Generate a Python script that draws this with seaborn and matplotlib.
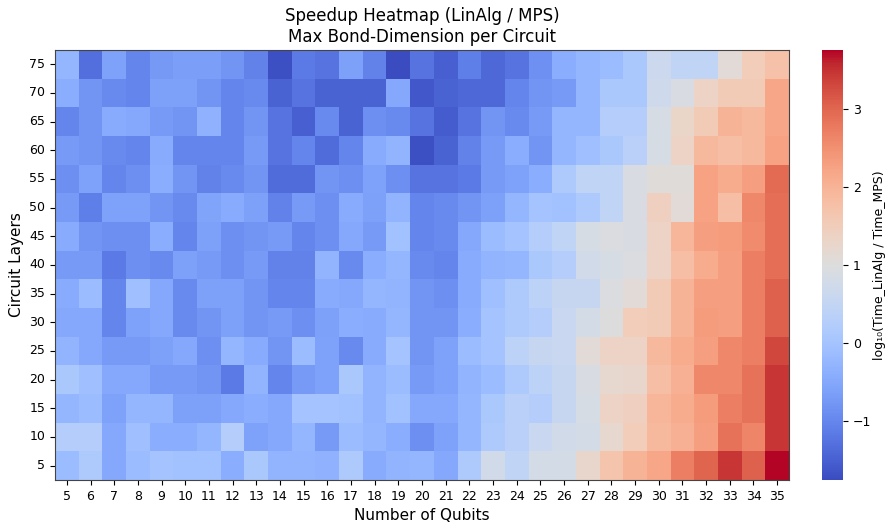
import numpy as np
import pandas as pd
import matplotlib
matplotlib.use("Agg")
import matplotlib.pyplot as plt
import seaborn as sns

# Circuit sizes
qubits = list(range(5, 36))
layers = list(range(75, 0, -5))

# log10(Time LinAlg / Time MPS), one list per circuit depth, qubits 5..35
speedup_L75 = [-0.25, -1.30, -0.60, -1.00, -0.72, -0.65, -0.65, -0.80,
               -1.05, -1.70, -1.15, -1.25, -0.62, -1.05, -1.75, -1.25,
               -1.50, -1.10, -1.40, -1.25, -0.85, -0.40, -0.25, -0.15,
               0.10, 0.65, 0.45, 0.45, 1.10, 1.50, 1.75]
speedup_L70 = [-0.40, -0.80, -0.95, -1.00, -0.62, -0.62, -0.80, -1.00,
               -0.95, -1.45, -1.25, -1.45, -1.45, -1.45, -0.50, -1.60,
               -1.45, -1.40, -1.40, -1.00, -0.80, -0.70, -0.25, 0.10,
               0.10, 0.70, 0.90, 1.35, 1.55, 1.55, 2.20]
speedup_L65 = [-1.00, -0.80, -0.45, -0.50, -0.70, -0.80, -0.35, -1.00,
               -0.80, -1.25, -1.50, -0.95, -1.45, -0.88, -0.95, -1.25,
               -1.55, -1.25, -0.80, -0.95, -0.70, -0.25, -0.25, 0.25,
               0.25, 0.85, 1.30, 1.55, 2.00, 1.90, 2.20]
speedup_L60 = [-0.70, -0.80, -0.95, -1.00, -0.45, -1.00, -1.00, -1.00,
               -0.70, -1.25, -1.00, -1.35, -1.00, -0.45, -0.30, -1.70,
               -1.45, -1.05, -0.70, -0.40, -0.80, -0.25, -0.08, 0.10,
               0.35, 0.85, 1.35, 1.90, 1.80, 1.90, 2.25]
speedup_L55 = [-0.88, -0.60, -1.00, -0.88, -0.40, -0.80, -1.05, -0.95,
               -0.80, -1.35, -1.35, -0.80, -0.88, -0.60, -0.88, -1.25,
               -1.25, -1.15, -0.70, -0.60, -0.40, 0.15, 0.45, 0.45,
               0.90, 1.05, 1.05, 2.25, 2.10, 2.30, 2.95]
speedup_L50 = [-0.70, -1.10, -0.60, -0.60, -0.80, -0.95, -0.55, -0.45,
               -0.62, -1.05, -0.70, -0.88, -0.45, -0.62, -0.30, -1.00,
               -0.95, -0.80, -0.62, -0.25, 0.00, -0.05, 0.15, 0.45,
               0.90, 1.45, 1.10, 2.25, 1.80, 2.60, 2.90]
speedup_L45 = [-0.45, -0.80, -0.88, -0.88, -0.40, -1.00, -0.62, -0.88,
               -0.80, -0.70, -1.00, -0.88, -0.50, -0.70, -0.05, -1.00,
               -0.95, -0.50, -0.15, 0.00, 0.25, 0.45, 0.85, 0.95,
               0.90, 1.35, 1.95, 2.30, 2.35, 2.55, 2.90]
speedup_L40 = [-0.70, -0.70, -1.15, -0.88, -0.95, -0.62, -0.70, -0.88,
               -0.70, -1.05, -1.05, -0.30, -0.95, -0.40, -0.25, -0.95,
               -1.00, -0.45, -0.30, -0.25, 0.10, 0.25, 0.75, 0.85,
               0.95, 1.35, 1.80, 2.10, 2.30, 2.70, 2.90]
speedup_L35 = [-0.45, -0.15, -1.00, -0.08, -0.50, -0.95, -0.62, -0.62,
               -0.80, -1.00, -1.00, -0.45, -0.50, -0.25, -0.30, -0.80,
               -0.88, -0.45, -0.08, 0.15, 0.38, 0.55, 0.55, 0.95,
               1.10, 1.55, 2.00, 2.30, 2.30, 2.70, 3.05]
speedup_L30 = [-0.50, -0.50, -1.00, -0.60, -0.50, -0.95, -0.80, -0.62,
               -0.80, -0.70, -0.88, -0.62, -0.40, -0.45, -0.25, -0.80,
               -0.80, -0.40, 0.00, 0.15, 0.25, 0.60, 0.80, 1.00,
               1.50, 1.55, 2.00, 2.35, 2.30, 2.70, 3.05]
speedup_L25 = [-0.30, -0.50, -0.70, -0.70, -0.62, -0.50, -0.88, -0.25,
               -0.45, -0.80, -0.15, -0.60, -0.95, -0.45, 0.00, -0.80,
               -0.60, -0.15, 0.00, 0.38, 0.55, 0.60, 1.10, 1.35,
               1.35, 1.90, 2.10, 2.30, 2.60, 2.70, 3.30]
speedup_L20 = [0.10, -0.08, -0.50, -0.50, -0.70, -0.70, -0.80, -1.15,
               -0.30, -1.00, -0.70, -0.60, 0.10, -0.30, -0.15, -0.70,
               -0.60, -0.30, -0.15, 0.15, 0.38, 0.55, 0.90, 1.20,
               1.25, 1.80, 2.05, 2.60, 2.60, 2.85, 3.45]
speedup_L15 = [-0.25, -0.15, -0.60, -0.25, -0.25, -0.62, -0.62, -0.50,
               -0.40, -0.50, 0.00, 0.00, -0.05, -0.30, -0.05, -0.50,
               -0.50, -0.25, 0.10, 0.35, 0.25, 0.55, 0.85, 1.35,
               1.45, 1.95, 2.10, 2.35, 2.70, 2.85, 3.45]
speedup_L10 = [0.25, 0.25, -0.50, -0.08, -0.40, -0.40, -0.25, 0.25,
               -0.60, -0.50, -0.25, -0.70, -0.15, -0.25, -0.40, -0.88,
               -0.60, -0.25, 0.15, 0.35, 0.60, 0.75, 0.80, 1.20,
               1.50, 1.90, 2.05, 2.30, 2.85, 2.65, 3.45]
speedup_L5 = [-0.15, 0.15, -0.50, -0.15, 0.00, -0.05, -0.05, -0.40,
              0.10, -0.30, -0.30, -0.35, 0.15, -0.45, -0.30, -0.25,
              -0.50, 0.15, 0.75, 0.45, 0.80, 0.80, 1.25, 1.70,
              2.00, 2.20, 2.70, 3.00, 3.45, 3.05, 3.75]

rows = [speedup_L75, speedup_L70, speedup_L65, speedup_L60, speedup_L55,
        speedup_L50, speedup_L45, speedup_L40, speedup_L35, speedup_L30,
        speedup_L25, speedup_L20, speedup_L15, speedup_L10, speedup_L5]
df = pd.DataFrame(rows, index=layers, columns=qubits)

fig = plt.figure(figsize=(8.85, 5.29), dpi=100)
ax = fig.add_axes([55 / 885, 49 / 529, 734 / 885, 430 / 529])
cax = fig.add_axes([822 / 885, 49 / 529, 21 / 885, 430 / 529])

sns.heatmap(df, cmap="coolwarm", ax=ax, cbar_ax=cax)

for spine in ax.spines.values():
    spine.set_visible(True)
    spine.set_color("#444444")
    spine.set_linewidth(0.8)

ax.tick_params(axis="x", labelrotation=0, labelsize=9)
ax.tick_params(axis="y", labelrotation=0, labelsize=9)
ax.set_xlabel("Number of Qubits", fontsize=11)
ax.set_ylabel("Circuit Layers", fontsize=11)
ax.set_title("Speedup Heatmap (LinAlg / MPS)\nMax Bond-Dimension per Circuit",
             fontsize=12)

cax.tick_params(labelsize=9)
cax.set_ylabel("log\u2081\u2080(Time_LinAlg / Time_MPS)", fontsize=9)
# colorbar title sits in the narrow strip along the right border
cax.yaxis.set_label_coords((873 - 822) / 21, 0.5)

fig.savefig("out.png", dpi=100)
